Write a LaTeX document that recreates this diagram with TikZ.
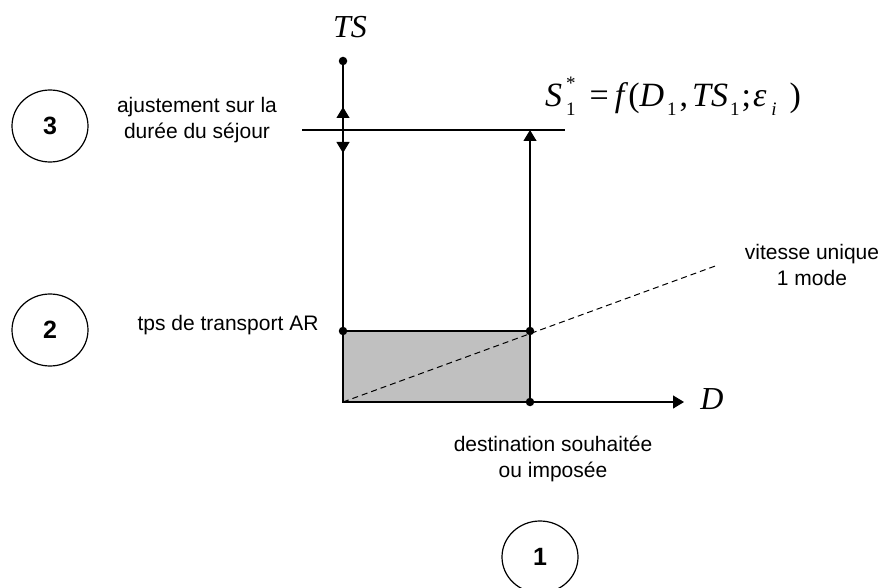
\documentclass[tikz,border=0pt]{standalone}
\usepackage{fontspec}
\setmainfont{Liberation Sans}
\newfontfamily\tnr{Liberation Serif}
\usetikzlibrary{arrows.meta,shapes.geometric}
\newcommand{\sbx}[1]{\raisebox{-0.25em}{\fontsize{19}{19}\selectfont\upshape #1}}
\begin{document}
\begin{tikzpicture}[x=1pt,y=-1pt,
  ln/.style={line width=1.2pt},
  tri/.style={-{Triangle[length=11pt,width=13pt]}},
  dot/.style={circle,fill=black,inner sep=0pt,minimum size=8.5pt},
  lab/.style={font=\fontsize{21}{26}\selectfont,align=center,inner sep=0pt},
  num/.style={ellipse,draw,line width=1.2pt,minimum width=76pt,minimum height=72pt,inner sep=0pt,font=\fontsize{25}{25}\selectfont\bfseries},
  mathlab/.style={font=\fontsize{32}{34}\tnr\itshape,inner sep=0pt}]
\useasboundingbox (0,0) rectangle (878,588);
% coordinates
\coordinate (O) at (343,402);
\coordinate (Ttop) at (343,61);
\coordinate (P2) at (343,331);
\coordinate (Q) at (530,331);
\coordinate (Dx) at (530,402);
\coordinate (Dend) at (684,402);
\coordinate (Ltop) at (530,130);
\coordinate (H1) at (302,130);
\coordinate (H2) at (565,130);
\coordinate (Ax) at (343,130);
\coordinate (Up) at (343,107);
\coordinate (Dn) at (343,153);
\coordinate (Vend) at (718,265);
% shaded rectangle
\filldraw[ln,fill={rgb,255:red,192;green,192;blue,192}] (O) rectangle (Q);
% dashed line
\draw[line width=1pt,dash pattern=on 6pt off 4pt] (O) -- (Vend);
% axes
\draw[ln] (Ttop) -- (O);
\draw[ln,tri] (O) -- (Dend);
\draw[ln,tri] (Q) -- (Ltop);
\draw[ln] (H1) -- (H2);
\draw[ln,tri] (Ax) -- (Up);
\draw[ln,tri] (Ax) -- (Dn);
% dots
\node[dot] (dTop) at (Ttop) {};
\node[dot] (dP2) at (P2) {};
\node[dot] (dQ) at (Q) {};
\node[dot] (dDx) at (Dx) {};
% axis labels
\node[mathlab,anchor=base] (TS) at (350,38) {TS};
\node[mathlab,anchor=base] (D) at (712,409) {D};
\node[mathlab,font=\fontsize{34}{36}\tnr\itshape,anchor=base west] (F) at (545,107) {S\hspace{4pt}\rlap{\raisebox{0.5em}{\fontsize{19}{19}\selectfont\upshape *}}\sbx{1}\hspace{14pt}\upshape=\hspace{6pt}\itshape f\hspace{4pt}\upshape(\itshape D\hspace{3pt}\sbx{1}\hspace{3pt}\upshape,\hspace{4pt}\itshape TS\hspace{2pt}\sbx{1}\hspace{2pt}\upshape;\hspace{2pt}\itshape ε\hspace{5pt}\sbx{\itshape i}\hspace{13pt}\upshape)};
% text labels
\node[lab] (adj) at (197,120) {ajustement sur la\\durée du séjour};
\node[lab] (tps) at (228,325) {tps de transport AR};
\node[lab] (vit) at (812,265) {vitesse unique\\1 mode};
\node[lab] (dest) at (553,459) {destination souhaitée\\ou imposée};
% numbered ellipses
\node[num] (n3) at (50,126) {3};
\node[num] (n2) at (50,330) {2};
\node[num] (n1) at (540,557) {1};
\end{tikzpicture}
\end{document}
